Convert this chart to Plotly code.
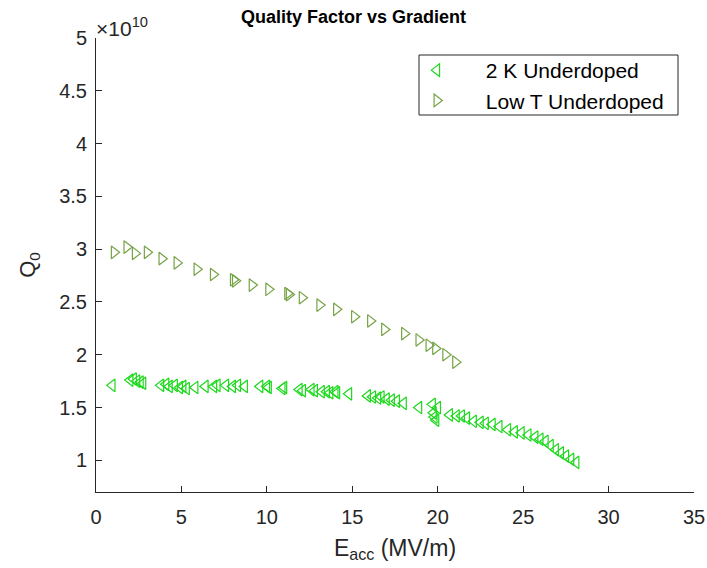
import plotly.graph_objects as go

# Accelerating gradient (MV/m) and quality factor (in units of 1e10)
eacc_2k = [0.95, 2.0, 2.2, 2.4, 2.6, 2.75, 3.8, 4.1, 4.3, 4.6, 4.9, 5.1, 5.3, 5.8,
           6.4, 6.9, 7.1, 7.6, 8.0, 8.3, 8.7, 9.6, 10.0, 10.1, 10.9, 11.0, 11.9,
           12.1, 12.6, 12.8, 13.2, 13.5, 13.7, 14.0, 14.1, 14.8, 15.9, 16.2, 16.5,
           16.7, 17.0, 17.3, 17.6, 18.0, 18.9, 19.7, 19.75, 19.8, 19.9, 20.0, 20.7,
           21.1, 21.4, 21.7, 22.1, 22.5, 22.8, 23.2, 23.6, 24.1, 24.5, 24.9, 25.3,
           25.7, 26.0, 26.3, 26.6, 26.9, 27.2, 27.5, 27.8, 28.1]
q0_2k = [1.71, 1.76, 1.77, 1.75, 1.74, 1.73, 1.71, 1.72, 1.70, 1.71, 1.69, 1.70, 1.68,
         1.69, 1.70, 1.70, 1.71, 1.71, 1.70, 1.71, 1.70, 1.70, 1.70, 1.69, 1.68, 1.69,
         1.67, 1.66, 1.67, 1.66, 1.65, 1.65, 1.64, 1.65, 1.64, 1.63, 1.61, 1.60, 1.59,
         1.60, 1.58, 1.57, 1.56, 1.54, 1.50, 1.53, 1.45, 1.41, 1.38, 1.50, 1.43, 1.42,
         1.42, 1.40, 1.37, 1.36, 1.35, 1.34, 1.32, 1.29, 1.27, 1.26, 1.24, 1.22, 1.20,
         1.18, 1.14, 1.10, 1.07, 1.04, 1.01, 0.98]

eacc_lowt = [1.06, 1.80, 2.29, 2.99, 3.85, 4.73, 5.90, 6.86, 8.03, 8.15, 9.13, 10.10,
             11.21, 11.30, 12.06, 13.09, 14.07, 15.12, 16.06, 16.88, 18.05, 18.89,
             19.48, 19.87, 20.46, 21.04]
q0_lowt = [2.97, 3.02, 2.96, 2.97, 2.91, 2.87, 2.81, 2.76, 2.71, 2.70, 2.66, 2.62,
           2.58, 2.57, 2.54, 2.47, 2.43, 2.36, 2.32, 2.24, 2.20, 2.14, 2.09, 2.06,
           2.00, 1.93]

x_ticks = [0, 5, 10, 15, 20, 25, 30, 35]
y_ticks = [1, 1.5, 2, 2.5, 3, 3.5, 4, 4.5, 5]

FONT = "Liberation Sans, Arial, Helvetica, sans-serif"
AXIS_COLOR = "#262626"

fig = go.Figure()
fig.add_trace(go.Scatter(
    x=eacc_2k, y=q0_2k, mode="markers", name="2 K Underdoped",
    marker=dict(symbol="triangle-left-open", size=11, color="#1ed81e",
                line=dict(width=1.2, color="#1ed81e")),
))
fig.add_trace(go.Scatter(
    x=eacc_lowt, y=q0_lowt, mode="markers", name="Low T Underdoped",
    marker=dict(symbol="triangle-right-open", size=11, color="#76a346",
                line=dict(width=1.2, color="#76a346")),
))

fig.update_layout(
    width=707, height=568,
    margin=dict(l=96, r=13, t=38, b=76),
    paper_bgcolor="white", plot_bgcolor="white",
    font=dict(family=FONT, size=20, color=AXIS_COLOR),
    title=dict(text="<b>Quality Factor vs Gradient</b>", x=0.5, xanchor="center",
               y=1 - 17 / 568, yanchor="middle", font=dict(size=18, color="black")),
    showlegend=True,
    legend=dict(x=0.488, y=0.9736, xanchor="left", yanchor="top",
                bgcolor="rgba(0,0,0,0)", borderwidth=0,
                font=dict(size=21, color="black"), itemwidth=88,
                tracegroupgap=0),
    xaxis=dict(range=[0, 35], tickvals=x_ticks, ticktext=[str(v) for v in x_ticks],
               showgrid=False, zeroline=False, showline=True, linecolor=AXIS_COLOR,
               linewidth=1, ticks="inside", ticklen=6, tickcolor=AXIS_COLOR,
               tickfont=dict(size=20), ticklabelstandoff=7, automargin=False,
               title=dict(text="E<sub>acc</sub> (MV/m)", font=dict(size=23), standoff=12)),
    yaxis=dict(range=[0.7, 5], tickvals=y_ticks, ticktext=[f"{v:g}" for v in y_ticks],
               showgrid=False, zeroline=False, showline=True, linecolor=AXIS_COLOR,
               linewidth=1, ticks="inside", ticklen=6, tickcolor=AXIS_COLOR,
               tickfont=dict(size=20), ticklabelstandoff=4, automargin=False,
               title=dict(text="Q<sub>0</sub>", font=dict(size=22), standoff=17)),
)

# Legend frame
fig.add_shape(type="rect", xref="paper", yref="paper", layer="above",
              x0=(419 - 96) / 598, x1=(678 - 96) / 598,
              y0=(492 - 115) / 454, y1=(492 - 55) / 454,
              line=dict(color=AXIS_COLOR, width=1), fillcolor="rgba(0,0,0,0)")

# Common exponent for the y axis
fig.add_annotation(text="\u00d710<sup>10</sup>", xref="paper", yref="paper",
                   x=0, y=1, xanchor="left", yanchor="bottom", showarrow=False,
                   font=dict(size=21, color=AXIS_COLOR), xshift=-2, yshift=-4)

fig.write_html("out.html")
